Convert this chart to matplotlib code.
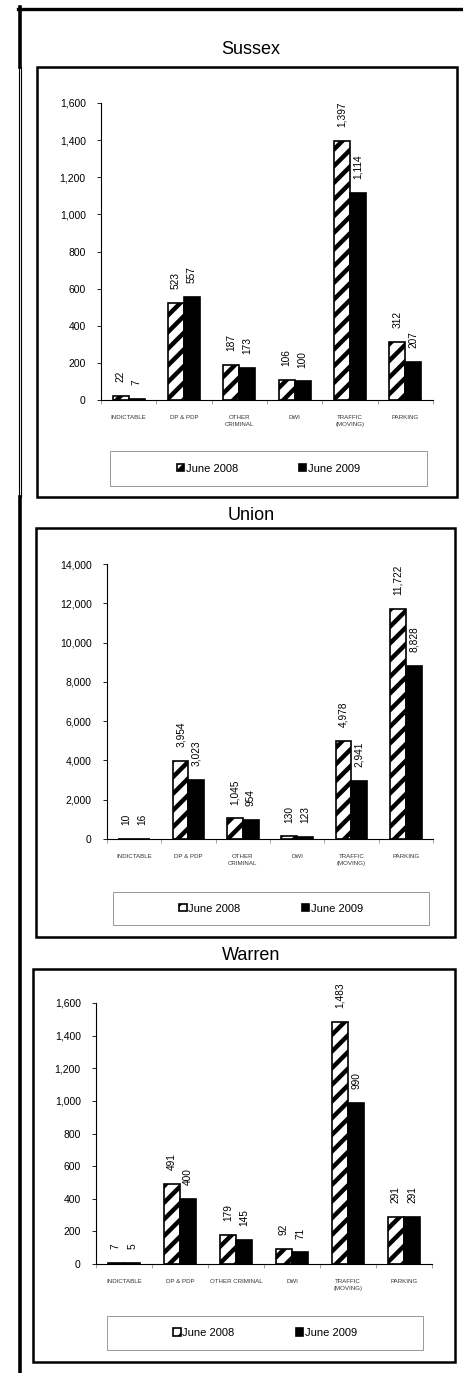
import numpy as np
import matplotlib.pyplot as plt
from matplotlib.patches import Rectangle
from matplotlib.lines import Line2D
from matplotlib.ticker import FuncFormatter

plt.rcParams['font.family'] = ['Liberation Sans', 'DejaVu Sans']
plt.rcParams['hatch.linewidth'] = 3.2

# Data
categories = ['INDICTABLE', 'DP & PDP', 'OTHER\nCRIMINAL', 'DWI', 'TRAFFIC\n(MOVING)', 'PARKING']
categories_warren = ['INDICTABLE', 'DP & PDP', 'OTHER CRIMINAL', 'DWI', 'TRAFFIC\n(MOVING)', 'PARKING']
series = ['June 2008', 'June 2009']

sussex_2008 = [22, 523, 187, 106, 1397, 312]
sussex_2009 = [7, 557, 173, 100, 1114, 207]
union_2008 = [10, 3954, 1045, 130, 4978, 11722]
union_2009 = [16, 3023, 954, 123, 2941, 8828]
warren_2008 = [7, 491, 179, 92, 1483, 291]
warren_2009 = [5, 400, 145, 71, 990, 291]

W, H = 464, 1373
fig = plt.figure(figsize=(W / 100, H / 100), dpi=100)


def fx(px):
    return px / W


def fy(py):
    return 1 - py / H


def draw_panel(title, labels, v08, v09, ymax, ystep, title_y, box, axbox, legbox):
    # outer box of the chart
    fig.add_artist(Rectangle((fx(box[0]), fy(box[3])), (box[2] - box[0]) / W, (box[3] - box[1]) / H,
                             transform=fig.transFigure, fill=False, ec='black', lw=1.8))
    fig.text(fx(251), fy(title_y), title, ha='center', va='center', fontsize=13)

    l, t, r, b = axbox
    ax = fig.add_axes([fx(l), fy(b), (r - l) / W, (b - t) / H])
    x = np.arange(len(labels))
    w = 0.29
    b1 = ax.bar(x - w / 2, v08, w, color='white', edgecolor='black', hatch='//', linewidth=1.2)
    b2 = ax.bar(x + w / 2, v09, w, color='black', edgecolor='black', linewidth=1.2)

    for bars, vals in [(b1, v08), (b2, v09)]:
        for rect, v in zip(bars, vals):
            ax.annotate(f'{v:,}', (rect.get_x() + rect.get_width() / 2, rect.get_height()),
                        xytext=(0, 10), textcoords='offset points', rotation=90,
                        ha='center', va='bottom', fontsize=7.3)

    ax.set_xlim(-0.5, len(labels) - 0.5)
    ax.set_ylim(0, ymax)
    ax.set_yticks(np.arange(0, ymax + 1, ystep))
    ax.yaxis.set_major_formatter(FuncFormatter(lambda v, p: f'{int(v):,}'))
    ax.spines['top'].set_visible(False)
    ax.spines['right'].set_visible(False)
    ax.spines['left'].set_linewidth(0.8)
    ax.spines['bottom'].set_linewidth(0.8)

    ax.set_xticks(x)
    ax.set_xticklabels(labels, fontsize=4.4, color='#333333', linespacing=1.4)
    ax.set_xticks(np.arange(-0.5, len(labels), 1), minor=True)
    ax.tick_params(axis='x', which='major', length=0, pad=11)
    ax.tick_params(axis='x', which='minor', length=3, width=0.5, color='gray')
    ax.tick_params(axis='y', length=3, width=0.6, pad=8, labelsize=7.5)

    # legend
    lx0, ly0, lx1, ly1 = legbox
    fig.add_artist(Rectangle((fx(lx0), fy(ly1)), (lx1 - lx0) / W, (ly1 - ly0) / H,
                             transform=fig.transFigure, fill=False, ec='#999999', lw=0.7))
    ax.legend([b1, b2], series, loc='center',
              bbox_to_anchor=(fx((lx0 + lx1) / 2), fy((ly0 + ly1) / 2)),
              bbox_transform=fig.transFigure, ncol=2, frameon=False, fontsize=8,
              handlelength=0.65, handleheight=0.65, handletextpad=0.15,
              columnspacing=5.5, borderpad=0)
    return ax


draw_panel('Sussex', categories, sussex_2008, sussex_2009, 1600, 200, 50,
           (37, 67, 457, 497), (101, 103, 433, 400), (110, 451, 427, 486))
draw_panel('Union', categories, union_2008, union_2009, 14000, 2000, 515,
           (36, 528, 455, 937), (107, 564, 433, 839), (113, 892, 429, 925))
draw_panel('Warren', categories_warren, warren_2008, warren_2009, 1600, 200, 955,
           (33, 969, 455, 1362), (96, 1003, 432, 1264), (107, 1316, 423, 1350))

# page frame lines
fig.add_artist(Line2D([fx(18), fx(464)], [fy(8.5), fy(8.5)], transform=fig.transFigure, color='black', lw=2.4))
fig.add_artist(Line2D([fx(20), fx(20)], [fy(7), fy(67)], transform=fig.transFigure, color='black', lw=2.6))
fig.add_artist(Line2D([fx(20), fx(20)], [fy(497), fy(1373)], transform=fig.transFigure, color='black', lw=2.6))
for xx in (18.7, 21.3):
    fig.add_artist(Line2D([fx(xx), fx(xx)], [fy(67), fy(497)], transform=fig.transFigure, color='black', lw=0.8))

plt.savefig('out.png', dpi=100)
